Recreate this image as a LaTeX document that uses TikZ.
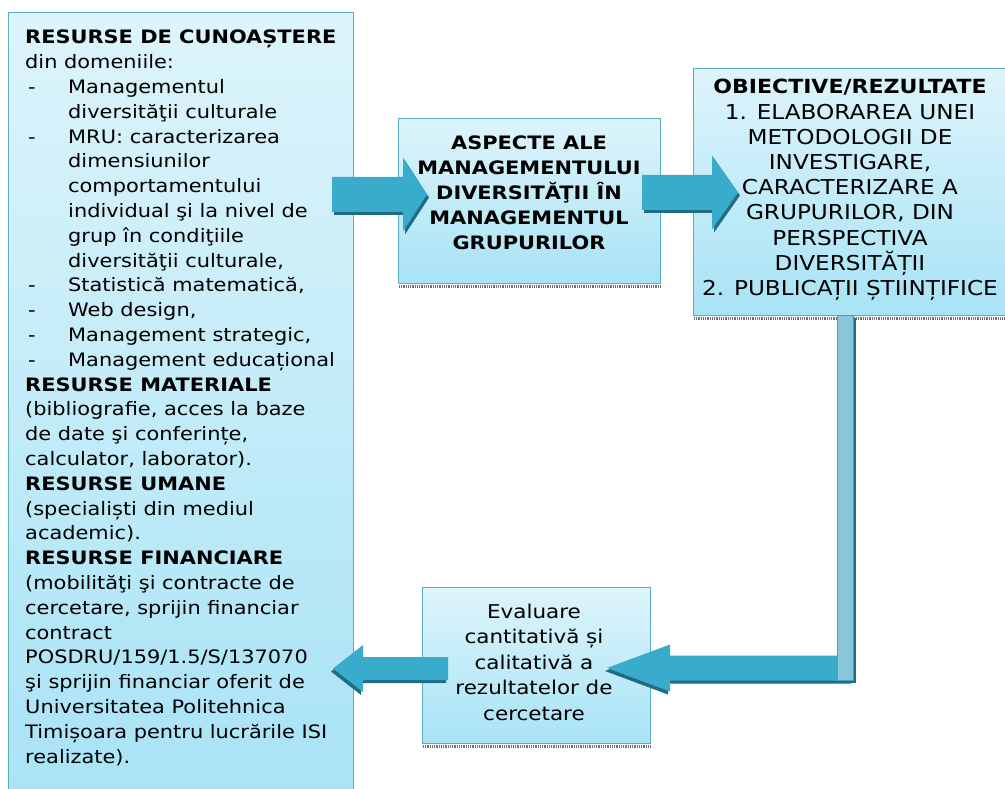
\documentclass[tikz,border=0pt]{standalone}
\usepackage{fontspec}
\setmainfont{DejaVu Sans}[FakeStretch=1.13]
\usetikzlibrary{calc}

\definecolor{boxtop}{HTML}{DDF4FB}
\definecolor{boxbot}{HTML}{A8E3F5}
\definecolor{boxline}{HTML}{5DADC3}
\definecolor{arrowmain}{HTML}{3AACCB}
\definecolor{arrowdark}{HTML}{1F6C84}
\definecolor{barfill}{HTML}{88C7D9}
\definecolor{barline}{HTML}{4D9FB7}

% list helpers for the resource box
\newcommand\resdash{\makebox[43pt][l]{\hspace*{3pt}-}}
\newcommand\resind{\hspace*{43pt}}

\tikzset{
  panel/.style={draw=boxline, line width=1.2pt, top color=boxtop, bottom color=boxbot,
                inner sep=0pt, anchor=north west},
  boxshadow/.style={draw=black!55, line width=2.4pt, dash pattern=on 0.9pt off 0.9pt},
  bodytext/.style={inner sep=0pt, font=\fontsize{18.5}{24.8}\selectfont},
  % block arrow along +x from its tail: length, shaft half width, head half width, head length
  pics/blockarrow/.style n args={4}{code={
    \fill[arrowdark] (2,{3-#2}) -- ({#1-#4+2},{3-#2}) -- ({#1-#4+2},{3-#3}) -- ({#1+2},3)
      -- ({#1-#4+2},{3+#3}) -- ({#1-#4+2},{3+#2}) -- (2,{3+#2}) -- cycle;
    \fill[arrowmain] (0,{-#2}) -- ({#1-#4},{-#2}) -- ({#1-#4},{-#3}) -- (#1,0)
      -- ({#1-#4},{#3}) -- ({#1-#4},{#2}) -- (0,{#2}) -- cycle;
  }},
}

\begin{document}
\begin{tikzpicture}[x=1pt, y=-1pt]
\useasboundingbox (0,0) rectangle (1005,789);
\fill[white] (0,0) rectangle (1005,789);
\clip (0,0) rectangle (1005,789);

% boxes
\node[panel, minimum width=345pt, minimum height=790pt] (res) at (8,12) {};
\node[panel, minimum width=262pt, minimum height=165pt] (asp) at (398,118) {};
\node[panel, minimum width=320pt, minimum height=247pt] (obj) at (693,68) {};
\node[panel, minimum width=228pt, minimum height=156pt] (eval) at (422,587) {};

% dotted shadows under the boxes
\draw[boxshadow] ($(asp.south west)+(1,2.2)$) -- ($(asp.south east)+(0,2.2)$);
\draw[boxshadow] ($(obj.south west)+(1,2.2)$) -- ($(obj.south east)+(0,2.2)$);
\draw[boxshadow] ($(eval.south west)+(1,2.2)$) -- ($(eval.south east)+(0,2.2)$);

% texts
\node[bodytext, anchor=north west, align=left] (restext) at (25,30) {%
\textbf{RESURSE DE CUNOAȘTERE}\\
din domeniile:\\
\resdash Managementul\\
\resind diversităţii culturale\\
\resdash MRU: caracterizarea\\
\resind dimensiunilor\\
\resind comportamentului\\
\resind individual şi la nivel de\\
\resind grup în condiţiile\\
\resind diversităţii culturale,\\
\resdash Statistică matematică,\\
\resdash Web design,\\
\resdash Management strategic,\\
\resdash Management educațional\\
\textbf{RESURSE MATERIALE}\\
(bibliografie, acces la baze\\
de date şi conferințe,\\
calculator, laborator).\\
\textbf{RESURSE UMANE}\\
(specialiști din mediul\\
academic).\\
\textbf{RESURSE FINANCIARE}\\
(mobilităţi şi contracte de\\
cercetare, sprijin financiar\\
contract\\
POSDRU/159/1.5/S/137070\\
şi sprijin financiar oferit de\\
Universitatea Politehnica\\
Timișoara pentru lucrările ISI\\
realizate).};

\node[bodytext, align=center, font=\fontsize{18.5}{25}\selectfont\bfseries] (asptext) at (529,193) {%
ASPECTE ALE\\ MANAGEMENTULUI\\ DIVERSITĂŢII ÎN\\ MANAGEMENTUL\\ GRUPURILOR};

\node[bodytext, align=center, font=\fontsize{20.5}{25.2}\selectfont] (objtext) at (850,190) {%
{\fontsize{19.5}{25.2}\selectfont\textbf{OBIECTIVE/REZULTATE}}\\
1. ELABORAREA UNEI\\
METODOLOGII DE\\
INVESTIGARE,\\
CARACTERIZARE A\\
GRUPURILOR, DIN\\
PERSPECTIVA\\
DIVERSITĂȚII\\
2. PUBLICAȚII ȘTIINȚIFICE};

\node[bodytext, align=center, font=\fontsize{19}{25.5}\selectfont] (evaltext) at (534,662) {%
Evaluare\\ cantitativă și\\ calitativă a\\ rezultatelor de\\ cercetare};

% arrows between the boxes
\pic at (332,194.5) {blockarrow={95}{17.5}{37}{24}};
\pic at (642,192.5) {blockarrow={96}{17.5}{37}{26}};
\pic[xscale=-1] at (853,668) {blockarrow={246}{12.5}{23.5}{63}};
\pic[xscale=-1] at (448,668.5) {blockarrow={115}{11.5}{23.5}{30}};

% vertical leg of the return arrow
\fill[arrowdark] (840,318) rectangle (856,683);
\filldraw[fill=barfill, draw=barline, line width=0.8pt] (837,315) rectangle (853,680);
\end{tikzpicture}
\end{document}
